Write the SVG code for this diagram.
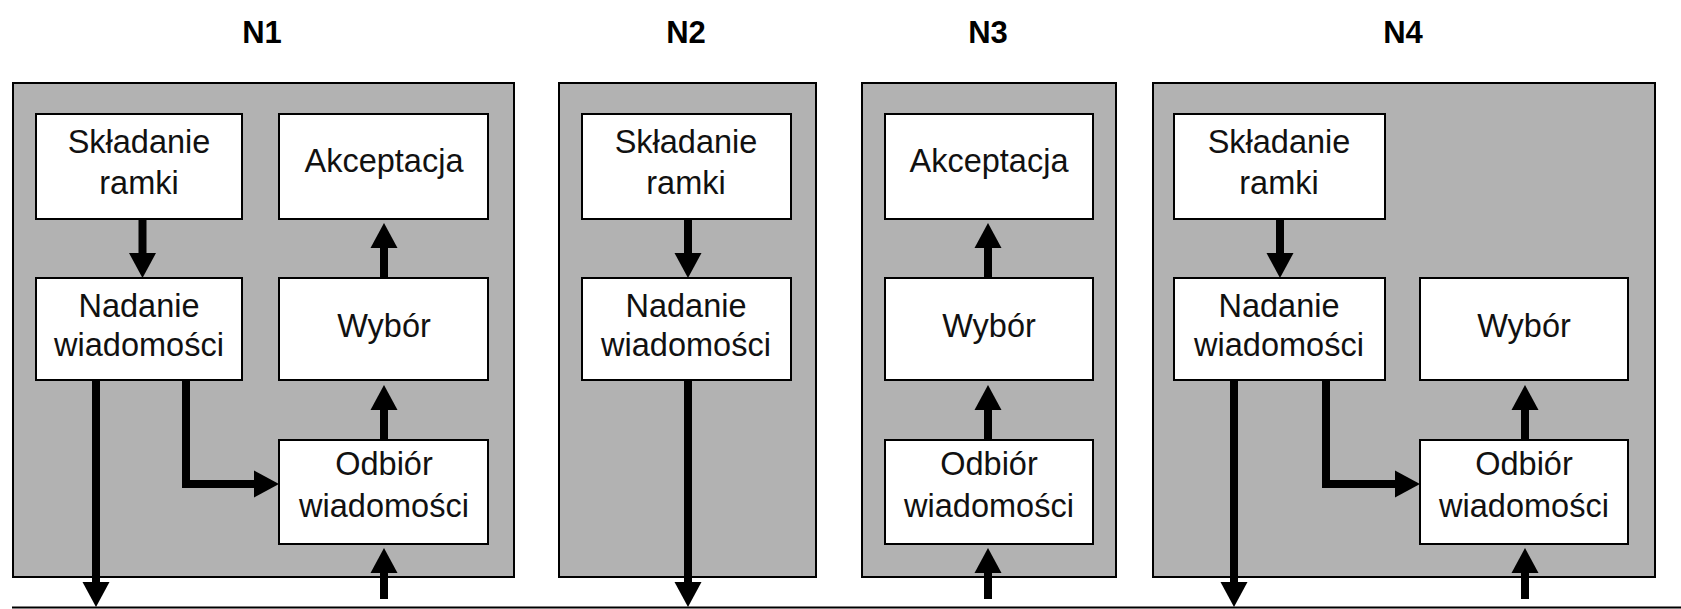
<svg xmlns="http://www.w3.org/2000/svg" width="1681" height="609" viewBox="0 0 1681 609">
  <defs>
    <marker id="head" markerUnits="userSpaceOnUse" markerWidth="27" markerHeight="28" refX="0" refY="13.5" orient="auto" overflow="visible">
      <path d="M0,0 L25,13.5 L0,27 z" fill="#000"/>
    </marker>
    <style>
      .title { font-family: "Liberation Sans", Arial, sans-serif; font-weight: bold; font-size: 31px; fill: #000; text-anchor: middle; }
      .station { fill: #b2b2b2; stroke: #000; stroke-width: 2; }
      .block { fill: #fff; stroke: #000; stroke-width: 2; }
      .lbl { font-family: "Liberation Sans", Arial, sans-serif; font-size: 32.5px; fill: #111; text-anchor: middle; }
      .flow { fill: none; stroke: #000; stroke-width: 8; stroke-linejoin: miter; stroke-linecap: butt; marker-end: url(#head); }
      .bus { stroke: #000; stroke-width: 2; }
    </style>
  </defs>
  <rect width="1681" height="609" fill="#fff"/>

  <!-- station N1 -->
  <g id="n1">
    <text class="title" x="262" y="43">N1</text>
    <rect class="station" x="13" y="83" width="501" height="494"/>
    <g id="n1-skladanie">
      <rect class="block" x="36" y="114" width="206" height="105"/>
      <text class="lbl" x="139" y="153">Składanie</text>
      <text class="lbl" x="139" y="194">ramki</text>
    </g>
    <g id="n1-akceptacja">
      <rect class="block" x="279" y="114" width="209" height="105"/>
      <text class="lbl" x="384" y="172">Akceptacja</text>
    </g>
    <g id="n1-nadanie">
      <rect class="block" x="36" y="278" width="206" height="102"/>
      <text class="lbl" x="139" y="317">Nadanie</text>
      <text class="lbl" x="139" y="356">wiadomości</text>
    </g>
    <g id="n1-wybor">
      <rect class="block" x="279" y="278" width="209" height="102"/>
      <text class="lbl" x="384" y="337">Wybór</text>
    </g>
    <g id="n1-odbior">
      <rect class="block" x="279" y="440" width="209" height="104"/>
      <text class="lbl" x="384" y="475">Odbiór</text>
      <text class="lbl" x="384" y="517">wiadomości</text>
    </g>
  </g>

  <!-- station N2 -->
  <g id="n2">
    <text class="title" x="686" y="43">N2</text>
    <rect class="station" x="559" y="83" width="257" height="494"/>
    <g id="n2-skladanie">
      <rect class="block" x="582" y="114" width="209" height="105"/>
      <text class="lbl" x="686" y="153">Składanie</text>
      <text class="lbl" x="686" y="194">ramki</text>
    </g>
    <g id="n2-nadanie">
      <rect class="block" x="582" y="278" width="209" height="102"/>
      <text class="lbl" x="686" y="317">Nadanie</text>
      <text class="lbl" x="686" y="356">wiadomości</text>
    </g>
  </g>

  <!-- station N3 -->
  <g id="n3">
    <text class="title" x="988" y="43">N3</text>
    <rect class="station" x="862" y="83" width="254" height="494"/>
    <g id="n3-akceptacja">
      <rect class="block" x="885" y="114" width="208" height="105"/>
      <text class="lbl" x="989" y="172">Akceptacja</text>
    </g>
    <g id="n3-wybor">
      <rect class="block" x="885" y="278" width="208" height="102"/>
      <text class="lbl" x="989" y="337">Wybór</text>
    </g>
    <g id="n3-odbior">
      <rect class="block" x="885" y="440" width="208" height="104"/>
      <text class="lbl" x="989" y="475">Odbiór</text>
      <text class="lbl" x="989" y="517">wiadomości</text>
    </g>
  </g>

  <!-- station N4 -->
  <g id="n4">
    <text class="title" x="1403" y="43">N4</text>
    <rect class="station" x="1153" y="83" width="502" height="494"/>
    <g id="n4-skladanie">
      <rect class="block" x="1174" y="114" width="211" height="105"/>
      <text class="lbl" x="1279" y="153">Składanie</text>
      <text class="lbl" x="1279" y="194">ramki</text>
    </g>
    <g id="n4-nadanie">
      <rect class="block" x="1174" y="278" width="211" height="102"/>
      <text class="lbl" x="1279" y="317">Nadanie</text>
      <text class="lbl" x="1279" y="356">wiadomości</text>
    </g>
    <g id="n4-wybor">
      <rect class="block" x="1420" y="278" width="208" height="102"/>
      <text class="lbl" x="1524" y="337">Wybór</text>
    </g>
    <g id="n4-odbior">
      <rect class="block" x="1420" y="440" width="208" height="104"/>
      <text class="lbl" x="1524" y="475">Odbiór</text>
      <text class="lbl" x="1524" y="517">wiadomości</text>
    </g>
  </g>

  <!-- shared medium and message flows -->
  <g id="connectors">
    <line class="bus" x1="12" y1="607.5" x2="1681" y2="607.5"/>

    <!-- N1 -->
    <path class="flow" d="M142.5,220 V253"/>
    <path class="flow" d="M384,278 V248"/>
    <path class="flow" d="M384,440 V410"/>
    <path class="flow" d="M384,599 V573"/>
    <path class="flow" d="M96,381 V582"/>
    <path class="flow" d="M186,381 V484 H254"/>

    <!-- N2 -->
    <path class="flow" d="M688,220 V253"/>
    <path class="flow" d="M688,381 V582"/>

    <!-- N3 -->
    <path class="flow" d="M988,278 V248"/>
    <path class="flow" d="M988,440 V410"/>
    <path class="flow" d="M988,599 V573"/>

    <!-- N4 -->
    <path class="flow" d="M1280,220 V253"/>
    <path class="flow" d="M1525,440 V410"/>
    <path class="flow" d="M1525,599 V573"/>
    <path class="flow" d="M1234,381 V582"/>
    <path class="flow" d="M1326,381 V484 H1395"/>
  </g>
</svg>
